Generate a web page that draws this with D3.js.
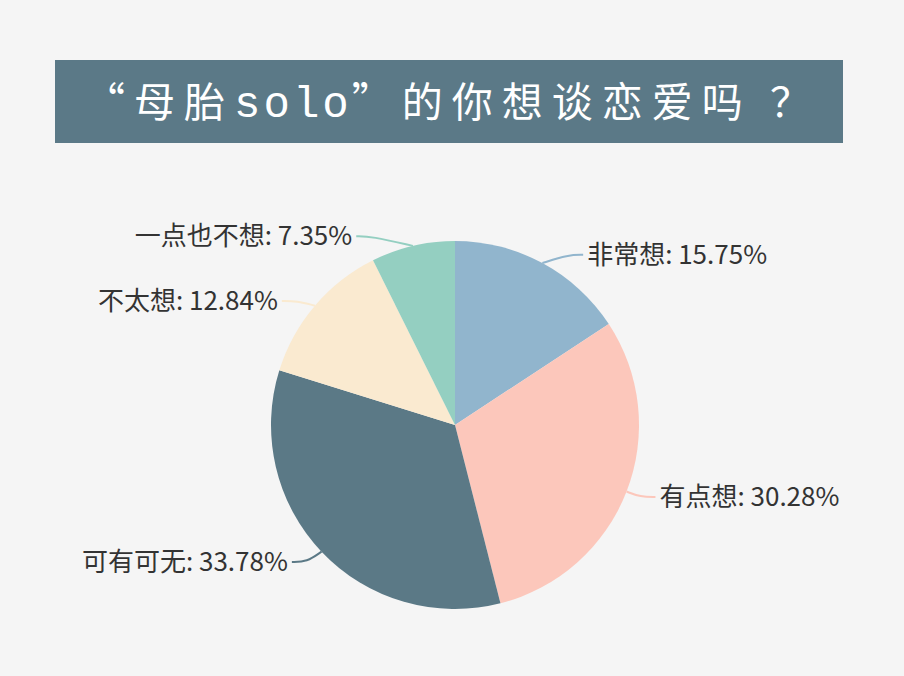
<!DOCTYPE html>
<html>
<head>
<meta charset="utf-8">
<script src="https://cdn.jsdelivr.net/npm/d3@7"></script>
<style>
  html, body { margin: 0; padding: 0; background: #f5f5f5; }
  svg { display: block; }
</style>
</head>
<body>
<svg id="viz"></svg>
<script>
// data
var labels = ['非常想', '有点想', '可有可无', '不太想', '一点也不想'];
var values = [15.75, 30.28, 33.78, 12.84, 7.35];
var colors = ['#91b5cd', '#fcc7bb', '#5b7986', '#faead0', '#94cfc1'];

var width = 904, height = 676;
var cx = 455, cy = 425, radius = 184;
var len1 = 15, len2 = 15;

var svg = d3.select('#viz').attr('width', width).attr('height', height);

svg.append('rect')
  .attr('width', width).attr('height', height)
  .attr('fill', '#f5f5f5');

// title banner
svg.append('rect')
  .attr('x', 55).attr('y', 60)
  .attr('width', 788).attr('height', 83)
  .attr('fill', '#5b7987');

var title = svg.append('text')
  .attr('x', 452).attr('y', 117)
  .attr('text-anchor', 'middle')
  .attr('fill', '#ffffff')
  .style('font-family', '"Noto Sans CJK SC", sans-serif')
  .style('font-size', '41px');
title.append('tspan').style('letter-spacing', '9px').text('“母胎');
title.append('tspan')
  .style('font-family', '"Liberation Mono", monospace')
  .style('font-size', '44px')
  .style('letter-spacing', '3px')
  .text('solo');
title.append('tspan').style('letter-spacing', '9px').text('”的你想谈恋爱吗 ？');

var g = svg.append('g').attr('transform', 'translate(' + cx + ',' + cy + ')');

var pie = d3.pie().sort(null).value(function (d) { return d; });
var arcs = pie(values);

var arc = d3.arc().innerRadius(0).outerRadius(radius);

g.selectAll('path.slice')
  .data(arcs)
  .join('path')
  .attr('class', 'slice')
  .attr('d', arc)
  .attr('fill', function (d, i) { return colors[i]; });

// label lines + labels (outside, horizontal tail)
var lineGen = d3.line().curve(d3.curveBasis);
arcs.forEach(function (d, i) {
  var mid = (d.startAngle + d.endAngle) / 2;
  var sx = Math.sin(mid), sy = -Math.cos(mid);
  var dir = sx < 0 ? -1 : 1;
  var p1 = [radius * sx, radius * sy];
  var ly = (radius + len1) * sy;
  if (sy < 0) ly += 5; // labels above centre sit a bit lower
  var outer = radius + len1 + len2 - 1;
  var lx = dir * Math.sqrt(Math.max(outer * outer - ly * ly, 0));
  var p2 = [lx - dir * len2, ly];
  var p3 = [lx, ly];

  g.append('path')
    .attr('d', lineGen([p1, p2, p3]))
    .attr('fill', 'none')
    .attr('stroke', colors[i])
    .attr('stroke-width', 2);

  g.append('text')
    .attr('x', lx + dir * 4)
    .attr('y', ly)
    .attr('dy', '0.35em')
    .attr('text-anchor', dir < 0 ? 'end' : 'start')
    .attr('fill', '#333333')
    .style('font-family', '"Noto Sans CJK SC", sans-serif')
    .style('font-size', '26px')
    .text(labels[i] + ': ' + values[i].toFixed(2) + '%');
});
</script>
</body>
</html>
